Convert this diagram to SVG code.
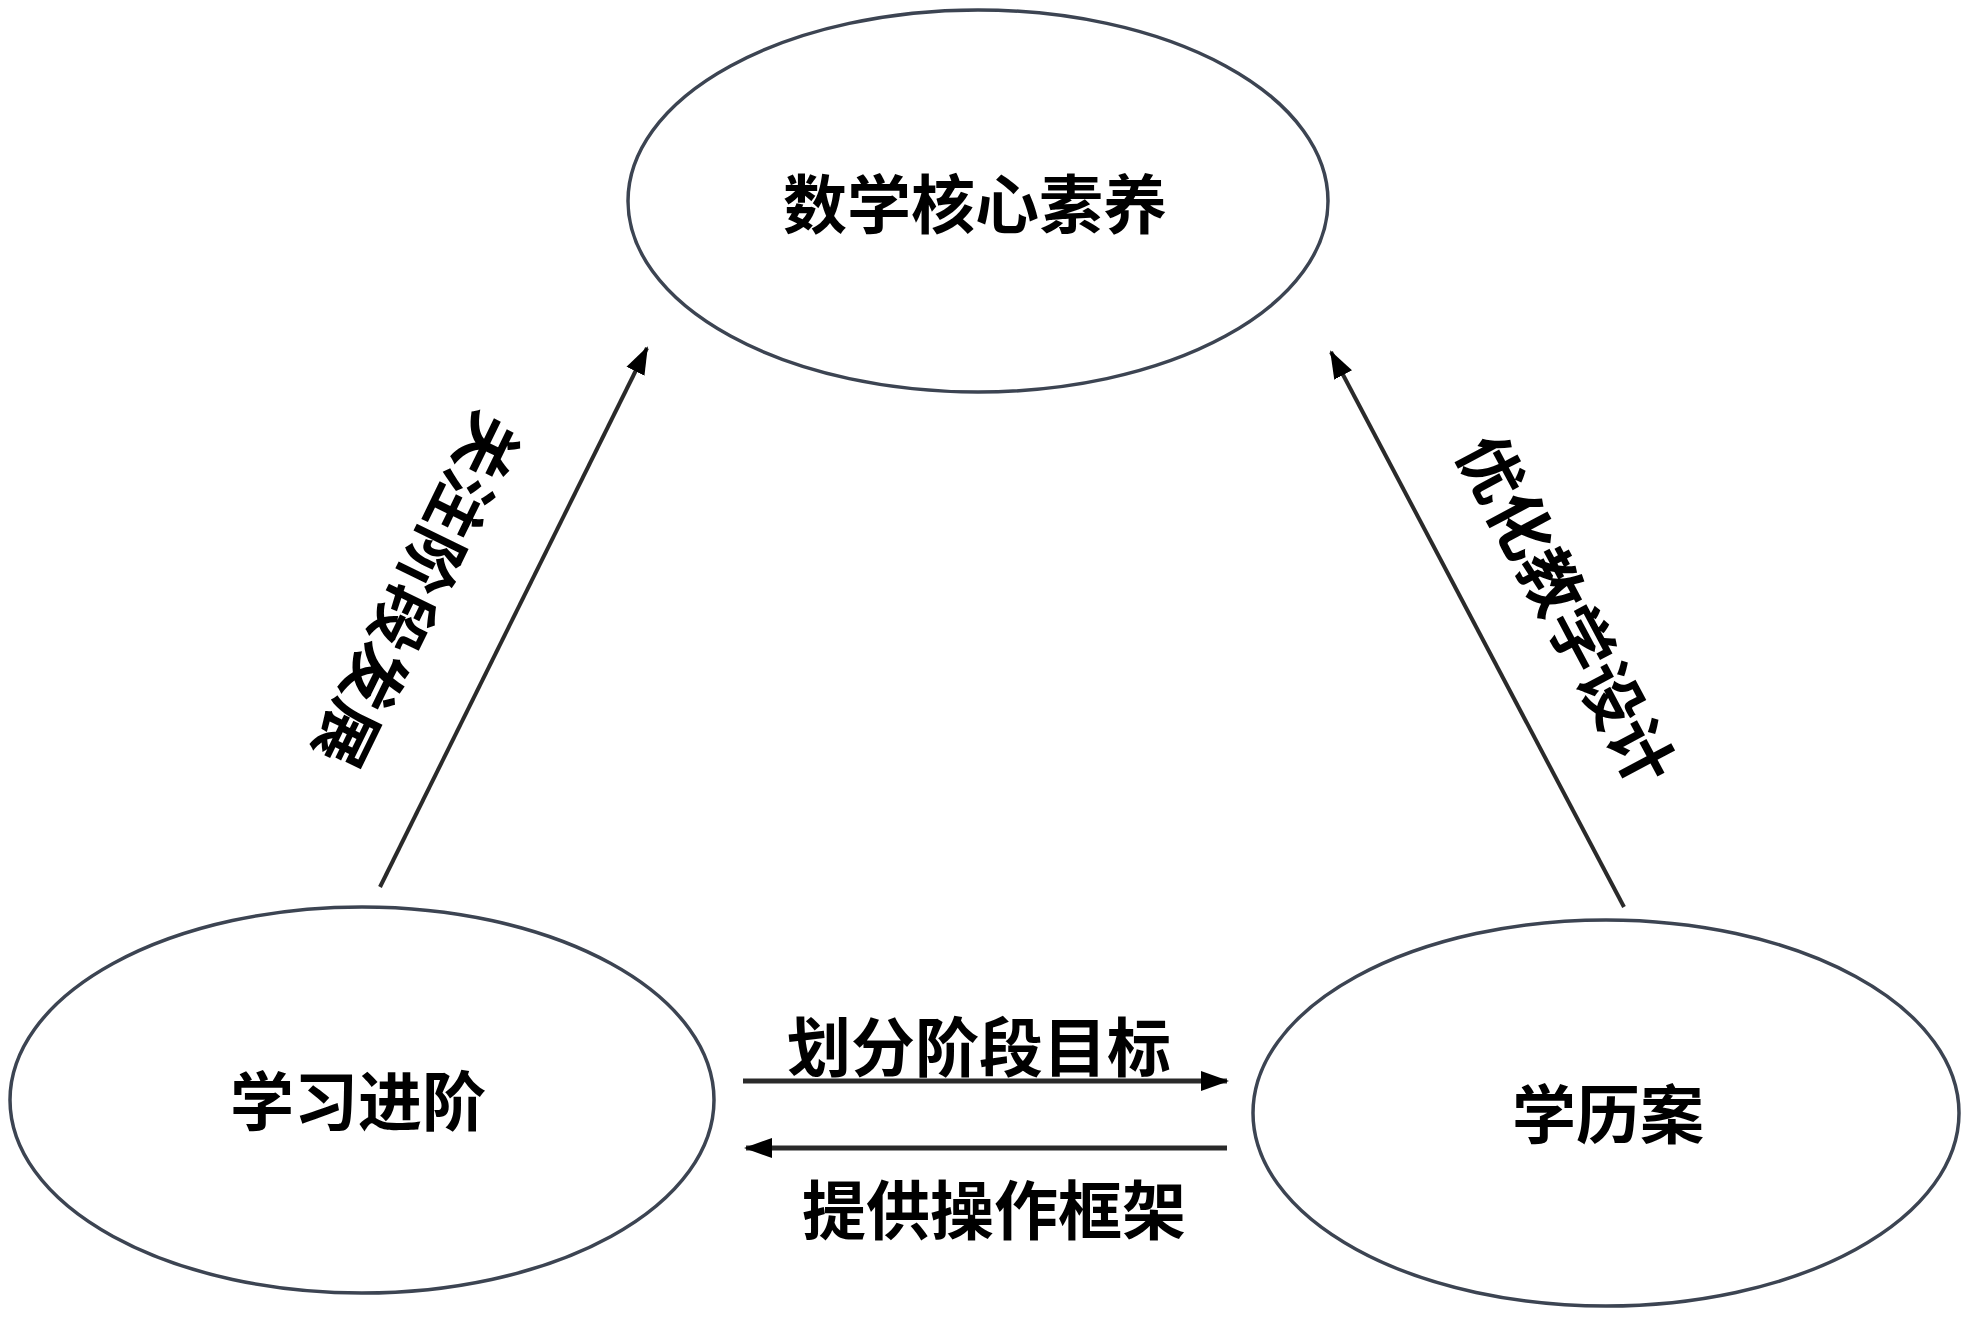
<svg xmlns="http://www.w3.org/2000/svg" width="1969" height="1317" viewBox="0 0 1969 1317">
<defs>
<style>
.node ellipse{fill:#fff;stroke:#3c4452;stroke-width:3.5}
.lbl{font-family:"Noto Sans CJK SC","Noto Sans CJK JP",sans-serif;font-weight:bold;font-size:64px;fill:#000;text-anchor:middle;dominant-baseline:central}
.edge{stroke:#2a2a2a;stroke-width:4;fill:none}
.edge.h{stroke-width:5}
</style>
<marker id="ah" markerUnits="userSpaceOnUse" markerWidth="28" markerHeight="24" refX="26" refY="12" orient="auto">
<path d="M0,2 L28,12 L0,22 Z" fill="#000"/>
</marker>
</defs>
<rect width="1969" height="1317" fill="#fff"/>
<g id="connectors">
<line class="edge" x1="380" y1="887" x2="647" y2="348" marker-end="url(#ah)"/>
<line class="edge" x1="1624" y1="907" x2="1331" y2="352" marker-end="url(#ah)"/>
<line class="edge h" x1="743" y1="1081" x2="1227" y2="1081" marker-end="url(#ah)"/>
<line class="edge h" x1="1227" y1="1148" x2="746" y2="1148" marker-end="url(#ah)"/>
<text class="lbl" transform="translate(421,592) rotate(116)">关注阶段发展</text>
<text class="lbl" transform="translate(1570,608) rotate(62)">优化教学设计</text>
<text class="lbl" x="979" y="1043">划分阶段目标</text>
<text class="lbl" x="994" y="1206">提供操作框架</text>
</g>
<g id="node-core" class="node">
<ellipse cx="978" cy="201" rx="350" ry="191"/>
<text class="lbl" x="975" y="200">数学核心素养</text>
</g>
<g id="node-progression" class="node">
<ellipse cx="362" cy="1100" rx="352" ry="193"/>
<text class="lbl" x="358" y="1097">学习进阶</text>
</g>
<g id="node-plan" class="node">
<ellipse cx="1606" cy="1113" rx="353" ry="193"/>
<text class="lbl" x="1608" y="1110">学历案</text>
</g>
</svg>
